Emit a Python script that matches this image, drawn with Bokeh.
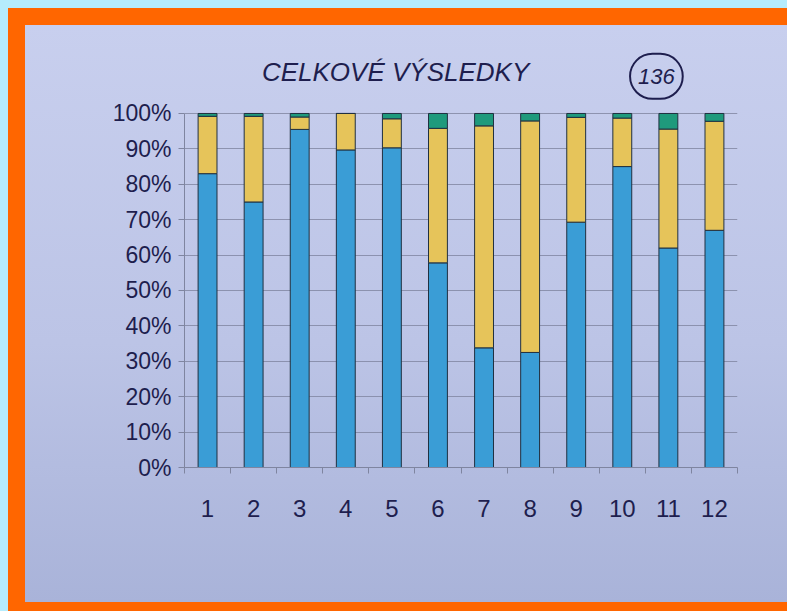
from bokeh.plotting import figure
from bokeh.models import ColumnDataSource, FixedTicker, Range1d, Label
from bokeh.embed import file_html
from bokeh.resources import INLINE

# ---- data (shares of each result, in %) ----
categories = [1, 2, 3, 4, 5, 6, 7, 8, 9, 10, 11, 12]
x_labels = ["1", "2", "3", "4", "5", "6", "7", "8", "9", "10", "11", "12"]
blue = [83.0, 75.0, 95.5, 89.7, 90.3, 57.8, 33.8, 32.5, 69.3, 85.0, 62.0, 67.0]
yellow = [16.2, 24.2, 3.5, 10.3, 8.2, 38.0, 62.7, 65.4, 29.6, 13.7, 33.6, 30.8]
green = [0.8, 0.8, 1.0, 0.0, 1.5, 4.2, 3.5, 2.1, 1.1, 1.3, 4.4, 2.2]
y_ticks = [0.0, 0.1, 0.2, 0.3, 0.4, 0.5, 0.6, 0.7, 0.8, 0.9, 1.0]
y_labels = ["0%", "10%", "20%", "30%", "40%", "50%", "60%", "70%", "80%", "90%", "100%"]
title_text = "CELKOVÉ VÝSLEDKY"
badge_text = "136"

source = ColumnDataSource(dict(
    x=categories,
    blue=[v / 100 for v in blue],
    yellow=[v / 100 for v in yellow],
    green=[v / 100 for v in green],
))

INK = "#1e1e4e"
GRID = "#7f85a0"

p = figure(
    width=762, height=577,
    x_range=Range1d(0.5, 12.5), y_range=Range1d(0, 1.192),
    output_backend="svg", toolbar_location=None,
    min_border_left=159, min_border_right=50,
    min_border_top=20, min_border_bottom=135,
    border_fill_color=None, background_fill_color=None,
    outline_line_color=None,
)

p.vbar_stack(
    ["blue", "yellow", "green"], x="x", width=0.41, source=source,
    color=["#3a9dd6", "#e6c45a", "#1f9a7c"],
    line_color="#203040", line_width=1,
)

# axes
p.xgrid.grid_line_color = None
p.ygrid.grid_line_color = GRID
p.ygrid.grid_line_width = 1
p.ygrid.grid_line_alpha = 0.8

xa = p.xaxis[0]
xa.ticker = FixedTicker(ticks=categories,
                        minor_ticks=[c - 0.5 for c in categories] + [categories[-1] + 0.5])
xa.major_label_overrides = {c: lab for c, lab in zip(categories, x_labels)}
xa.major_tick_line_color = None
xa.minor_tick_line_color = GRID
xa.minor_tick_out = 6
xa.minor_tick_in = 0
xa.axis_line_color = GRID
xa.major_label_standoff = 26
xa.major_label_text_font = "Liberation Sans"
xa.major_label_text_font_size = "24px"
xa.major_label_text_color = INK

ya = p.yaxis[0]
ya.ticker = FixedTicker(ticks=y_ticks, minor_ticks=[])
ya.bounds = (0, 1)
ya.major_label_overrides = {t: lab for t, lab in zip(y_ticks, y_labels)}
ya.major_tick_line_color = GRID
ya.major_tick_out = 6
ya.major_tick_in = 0
ya.minor_tick_line_color = None
ya.axis_line_color = GRID
ya.major_label_standoff = 7
ya.major_label_text_font = "Liberation Sans"
ya.major_label_text_font_size = "23px"
ya.major_label_text_color = INK

# handwritten-style title and circled number
p.add_layout(Label(x=5.08, y=1.116, text=title_text, text_align="center",
                   text_baseline="middle", text_font="Liberation Sans",
                   text_font_style="italic", text_font_size="26px",
                   text_color=INK))
p.add_layout(Label(x=10.74, y=1.105, text=badge_text, text_align="center",
                   text_baseline="middle", text_font="Liberation Sans",
                   text_font_style="italic", text_font_size="22px",
                   text_color=INK, border_line_color=INK, border_line_width=2,
                   padding=dict(left=8, right=8, top=15, bottom=15),
                   border_radius=26))

html = file_html(p, INLINE)

paper_style = (
    "box-sizing:content-box;width:800px;height:577px;overflow:hidden;"
    "border-left:17px solid #ff6600;border-top:17px solid #ff6600;"
    "border-bottom:9px solid #ff6600;"
    "background:linear-gradient(to bottom,#c8cfee 0%,#bcc4e6 55%,#a9b3d9 100%);"
)
# the real <body> tag is the last one (the inline JS in <head> may contain the string)
i = html.rfind("<body")
k = html.find(">", i) + 1
html = (html[:i]
        + '<body style="margin:8px;margin-right:0;background:#b5ecfd;overflow:hidden;">'
        + '<div style="' + paper_style + '">'
        + html[k:])
j = html.rfind("</body>")
html = html[:j] + "</div>" + html[j:]
h = html.rfind("<html")
hk = html.find(">", h) + 1
html = html[:h] + '<html lang="en" style="background:#b5ecfd;overflow:hidden;">' + html[hk:]
open("out.html", "w").write(html)
